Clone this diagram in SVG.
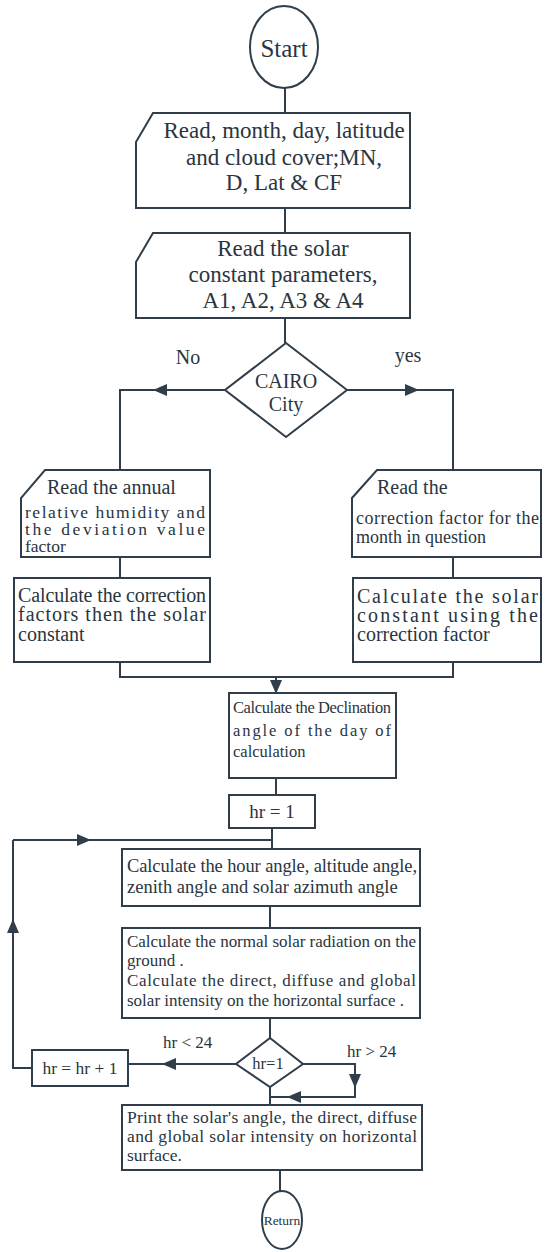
<svg xmlns="http://www.w3.org/2000/svg" width="545" height="1252" viewBox="0 0 545 1252">
<style>
.s{fill:#fff;stroke:#2f3e4a;stroke-width:2}
.c{fill:none;stroke:#2f3e4a;stroke-width:2}
text{font-family:"Liberation Serif","Times New Roman",serif;fill:#2a3540}
.m{text-anchor:middle}
</style>
<defs>
<marker id="a" markerUnits="userSpaceOnUse" markerWidth="14" markerHeight="12" refX="13" refY="6" orient="auto">
<path d="M0,0 L14,6 L0,12 z" fill="#2f3e4a"/>
</marker>
</defs>
<rect width="545" height="1252" fill="#fff"/>
<g id="connectors">
<path class="c" d="M285,88 V113"/>
<path class="c" d="M285,208 V233"/>
<path class="c" d="M285,318 V343"/>
<path class="c" d="M225,390 H154" marker-end="url(#a)"/>
<path class="c" d="M154,390 H120 V470"/>
<path class="c" d="M347,390 H418" marker-end="url(#a)"/>
<path class="c" d="M418,390 H453 V470"/>
<path class="c" d="M120,557 V578"/>
<path class="c" d="M453,557 V578"/>
<path class="c" d="M120,662 V677 H453 V662"/>
<path class="c" d="M276,677 V693" marker-end="url(#a)"/>
<path class="c" d="M276,778 V795"/>
<path class="c" d="M272,828 V849"/>
<path class="c" d="M13,840 H90" marker-end="url(#a)"/>
<path class="c" d="M90,840 H272"/>
<path class="c" d="M270,906 V928"/>
<path class="c" d="M270,1018 V1038"/>
<path class="c" d="M236,1064 H163" marker-end="url(#a)"/>
<path class="c" d="M163,1064 H128"/>
<path class="c" d="M32,1068 H13 V920" marker-end="url(#a)"/>
<path class="c" d="M13,920 V840"/>
<path class="c" d="M303,1064 H355 V1087" marker-end="url(#a)"/>
<path class="c" d="M355,1087 V1097 H288" marker-end="url(#a)"/>
<path class="c" d="M288,1097 H270"/>
<path class="c" d="M270,1087 V1105"/>
<path class="c" d="M280,1170 V1191"/>
</g>
<g id="start">
<ellipse class="s" cx="284" cy="47" rx="34" ry="41"/>
<text class="m" x="284" y="57" font-size="25">Start</text>
</g>
<g id="read1">
<path class="s" d="M153,113 H410 V208 H136 V142 Z"/>
<text class="m" x="284" y="138" font-size="23">Read, month, day, latitude</text>
<text class="m" x="284" y="165" font-size="23">and cloud cover;MN,</text>
<text class="m" x="284" y="190" font-size="23">D, Lat &amp; CF</text>
</g>
<g id="read2">
<path class="s" d="M153,233 H410 V318 H136 V262 Z"/>
<text class="m" x="283" y="256" font-size="23">Read the solar</text>
<text class="m" x="283" y="282" font-size="23">constant parameters,</text>
<text class="m" x="283" y="308" font-size="23">A1, A2, A3 &amp; A4</text>
</g>
<g id="cairo">
<path class="s" d="M286,343 L347,390 L286,437 L225,390 Z"/>
<text class="m" x="286" y="388" font-size="20">CAIRO</text>
<text class="m" x="286" y="411" font-size="20">City</text>
</g>
<text class="m" x="188" y="364" font-size="20">No</text>
<text class="m" x="408" y="362" font-size="20">yes</text>
<g id="readLeft">
<path class="s" d="M45,470 H210 V557 H21 V498 Z"/>
<text x="47" y="494" font-size="20">Read the annual</text>
<text x="25" y="518" font-size="17.5" textLength="180" lengthAdjust="spacing">relative humidity and</text>
<text x="25" y="535" font-size="17.5" textLength="180" lengthAdjust="spacing">the deviation value</text>
<text x="25" y="552" font-size="17.5">factor</text>
</g>
<g id="calcLeft">
<rect class="s" x="14" y="578" width="196" height="84"/>
<text x="18" y="602" font-size="20" textLength="188" lengthAdjust="spacing">Calculate the correction</text>
<text x="18" y="621" font-size="20" textLength="188" lengthAdjust="spacing">factors then the solar</text>
<text x="18" y="641" font-size="20">constant</text>
</g>
<g id="readRight">
<path class="s" d="M377,470 H541 V557 H352 V498 Z"/>
<text x="377" y="494" font-size="20">Read the</text>
<text x="356" y="524" font-size="18" textLength="183" lengthAdjust="spacing">correction factor for the</text>
<text x="356" y="543" font-size="18">month in question</text>
</g>
<g id="calcRight">
<rect class="s" x="353" y="578" width="188" height="84"/>
<text x="357" y="603" font-size="20" textLength="181" lengthAdjust="spacing">Calculate the solar</text>
<text x="357" y="622" font-size="20" textLength="181" lengthAdjust="spacing">constant using the</text>
<text x="357" y="641" font-size="20">correction factor</text>
</g>
<g id="declination">
<rect class="s" x="229" y="693" width="167" height="85"/>
<text x="233" y="713" font-size="16.5" textLength="158" lengthAdjust="spacing">Calculate the Declination</text>
<text x="233" y="736" font-size="16.5" textLength="158" lengthAdjust="spacing">angle of the day of</text>
<text x="233" y="757" font-size="16.5">calculation</text>
</g>
<g id="hr1">
<rect class="s" x="229" y="795" width="86" height="33"/>
<text class="m" x="272" y="818" font-size="19">hr = 1</text>
</g>
<g id="hourAngle">
<rect class="s" x="122" y="849" width="298" height="57"/>
<text x="127" y="872" font-size="18.5" textLength="290" lengthAdjust="spacing">Calculate the hour angle, altitude angle,</text>
<text x="127" y="893" font-size="18.5">zenith angle and solar azimuth angle</text>
</g>
<g id="normal">
<rect class="s" x="122" y="928" width="298" height="90"/>
<text x="127" y="947" font-size="17" textLength="289" lengthAdjust="spacing">Calculate the normal solar radiation on the</text>
<text x="127" y="966" font-size="17">ground .</text>
<text x="127" y="986" font-size="17" textLength="289" lengthAdjust="spacing">Calculate the direct, diffuse and global</text>
<text x="127" y="1006" font-size="17">solar intensity on the horizontal surface .</text>
</g>
<g id="hrCheck">
<path class="s" d="M270,1038 L303,1064 L270,1087 L236,1064 Z"/>
<text class="m" x="268" y="1069" font-size="16.5">hr=1</text>
</g>
<text x="163" y="1048" font-size="17">hr &lt; 24</text>
<text x="347" y="1057" font-size="17">hr &gt; 24</text>
<g id="hrInc">
<rect class="s" x="32" y="1050" width="96" height="36"/>
<text class="m" x="80" y="1074" font-size="17.5">hr = hr + 1</text>
</g>
<g id="print">
<rect class="s" x="122" y="1105" width="300" height="65"/>
<text x="127" y="1123" font-size="17.5" textLength="290" lengthAdjust="spacing">Print the solar's angle, the direct, diffuse</text>
<text x="127" y="1142" font-size="17.5" textLength="290" lengthAdjust="spacing">and global solar intensity on horizontal</text>
<text x="127" y="1161" font-size="17.5">surface.</text>
</g>
<g id="return">
<ellipse class="s" cx="282" cy="1220" rx="20" ry="29"/>
<text class="m" x="282" y="1225" font-size="13.5">Return</text>
</g>
</svg>
